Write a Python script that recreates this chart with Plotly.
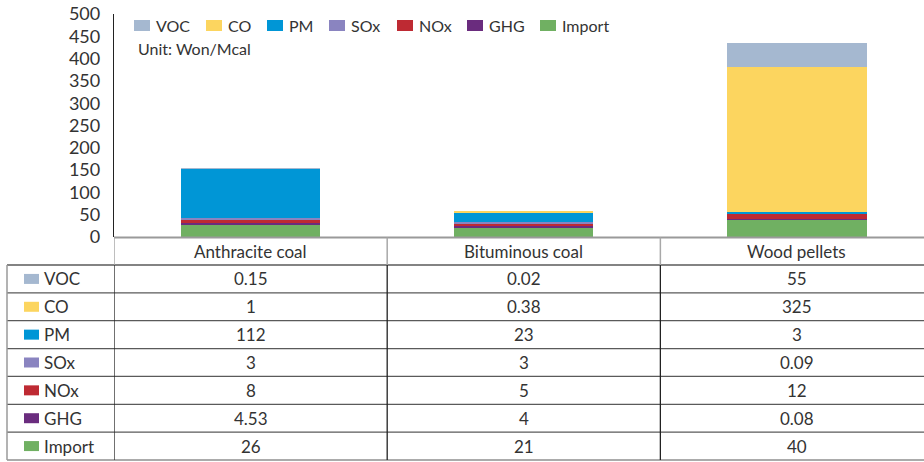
import plotly.graph_objects as go

# ---------------- data ----------------
categories = ["Anthracite coal", "Bituminous coal", "Wood pellets"]
series_names = ["VOC", "CO", "PM", "SOx", "NOx", "GHG", "Import"]
voc = [0.15, 0.02, 55]
co = [1, 0.38, 325]
pm = [112, 23, 3]
sox = [3, 3, 0.09]
nox = [8, 5, 12]
ghg = [4.53, 4, 0.08]
imp = [26, 21, 40]
series_values = [voc, co, pm, sox, nox, ghg, imp]
colors = ["#A5B8D0", "#FCD55F", "#0096D6", "#8A84C0", "#BE2A33", "#6A2C7E", "#70B062"]
y_ticks = [0, 50, 100, 150, 200, 250, 300, 350, 400, 450, 500]
unit_text = "Unit: Won/Mcal"

# ---------------- layout constants (pixels) ----------------
W, H = 924, 462
PL, PR = 114, 924          # plot left/right
PT, PB = 14, 237           # plot top/bottom
FONT = "Lato"
TXT = "#333333"

def px(x):
    return (x - PL) / (PR - PL)

def py(y):
    return (PB - y) / (PB - PT)

fig = go.Figure()
# stack bottom -> top: Import, GHG, NOx, SOx, PM, CO, VOC
for name, vals, col in reversed(list(zip(series_names, series_values, colors))):
    fig.add_trace(go.Bar(
        x=categories, y=vals, name=name, marker=dict(color=col, line=dict(width=0)),
        width=0.51, showlegend=False,
    ))

shapes = []
annotations = []

# ---- manual legend ----
legend_x = [134, 206, 267, 329, 397, 467, 540]
for lx, name, col in zip(legend_x, series_names, colors):
    shapes.append(dict(type="rect", xref="paper", yref="paper",
                       x0=px(lx), x1=px(lx + 16), y0=py(31), y1=py(20),
                       fillcolor=col, line=dict(width=0)))
    annotations.append(dict(xref="paper", yref="paper", x=px(lx + 20), y=py(25.5),
                            text=name, showarrow=False, xanchor="left", yanchor="middle",
                            font=dict(family=FONT, size=16, color=TXT)))
annotations.append(dict(xref="paper", yref="paper", x=px(136), y=py(48),
                        text=unit_text, showarrow=False, xanchor="left", yanchor="middle",
                        font=dict(family=FONT, size=16, color=TXT)))

# ---- data table ----
HDR_TOP, ROW_TOP, BOTTOM = 237.5, 265, 460
n = len(series_names)
row_h = (BOTTOM - ROW_TOP) / n
TBL_L = 7
TFS = 17

# header labels (categories)
for c in categories:
    annotations.append(dict(xref="x", yref="paper", x=c, y=py((HDR_TOP + ROW_TOP) / 2),
                            text=c, showarrow=False, xanchor="center", yanchor="middle",
                            font=dict(family=FONT, size=TFS, color=TXT)))

for i, (name, vals, col) in enumerate(zip(series_names, series_values, colors)):
    yc = ROW_TOP + row_h * (i + 0.5)
    shapes.append(dict(type="rect", xref="paper", yref="paper",
                       x0=px(24), x1=px(39), y0=py(yc + 5), y1=py(yc - 5),
                       fillcolor=col, line=dict(width=0)))
    annotations.append(dict(xref="paper", yref="paper", x=px(42), y=py(yc),
                            text=name, showarrow=False, xanchor="left", yanchor="middle",
                            font=dict(family=FONT, size=TFS, color=TXT)))
    for c, v in zip(categories, vals):
        annotations.append(dict(xref="x", yref="paper", x=c, y=py(yc),
                                text=f"{v:g}", showarrow=False, xanchor="center",
                                yanchor="middle",
                                font=dict(family=FONT, size=TFS, color=TXT)))

# horizontal lines
shapes.append(dict(type="line", xref="paper", yref="paper", x0=0, x1=1.02,
                   y0=py(HDR_TOP), y1=py(HDR_TOP), line=dict(color="#9a9a9a", width=2)))
for i in range(n):
    yy = ROW_TOP + row_h * i
    shapes.append(dict(type="line", xref="paper", yref="paper", x0=px(TBL_L), x1=1.02,
                       y0=py(yy), y1=py(yy), line=dict(color="#5a5a5a", width=1.3)))
shapes.append(dict(type="line", xref="paper", yref="paper", x0=px(TBL_L), x1=1.02,
                   y0=py(BOTTOM), y1=py(BOTTOM), line=dict(color="#ababab", width=2)))

# vertical lines
shapes.append(dict(type="line", xref="paper", yref="paper", x0=px(TBL_L), x1=px(TBL_L),
                   y0=py(ROW_TOP), y1=py(BOTTOM), line=dict(color="#9a9a9a", width=1.5)))
for xv in [-0.5, 0.5, 1.5]:
    shapes.append(dict(type="line", xref="x", yref="paper", x0=xv, x1=xv,
                       y0=py(HDR_TOP), y1=py(ROW_TOP), line=dict(color="#a8a8a8", width=1.5)))
    shapes.append(dict(type="line", xref="x", yref="paper", x0=xv, x1=xv,
                       y0=py(ROW_TOP), y1=py(BOTTOM), line=dict(color="#222222", width=1.3)))

fig.update_layout(
    width=W, height=H,
    margin=dict(l=PL, r=W - PR, t=PT, b=H - PB, pad=0),
    barmode="stack",
    plot_bgcolor="white", paper_bgcolor="white",
    showlegend=False,
    shapes=shapes, annotations=annotations,
    font=dict(family=FONT, color=TXT),
    xaxis=dict(range=[-0.5, 2.465], showticklabels=False, showgrid=False,
               zeroline=False, showline=False, ticks=""),
    yaxis=dict(range=[0, 500], tickvals=y_ticks, showgrid=False, zeroline=False,
               showline=True, linecolor="#222222", linewidth=1.3, ticks="",
               ticklabelstandoff=9, tickfont=dict(family=FONT, size=18, color=TXT)),
)

fig.write_html("out.html", config={"displayModeBar": False},
               post_script="document.body.style.margin='0';document.body.style.overflow='hidden';")
